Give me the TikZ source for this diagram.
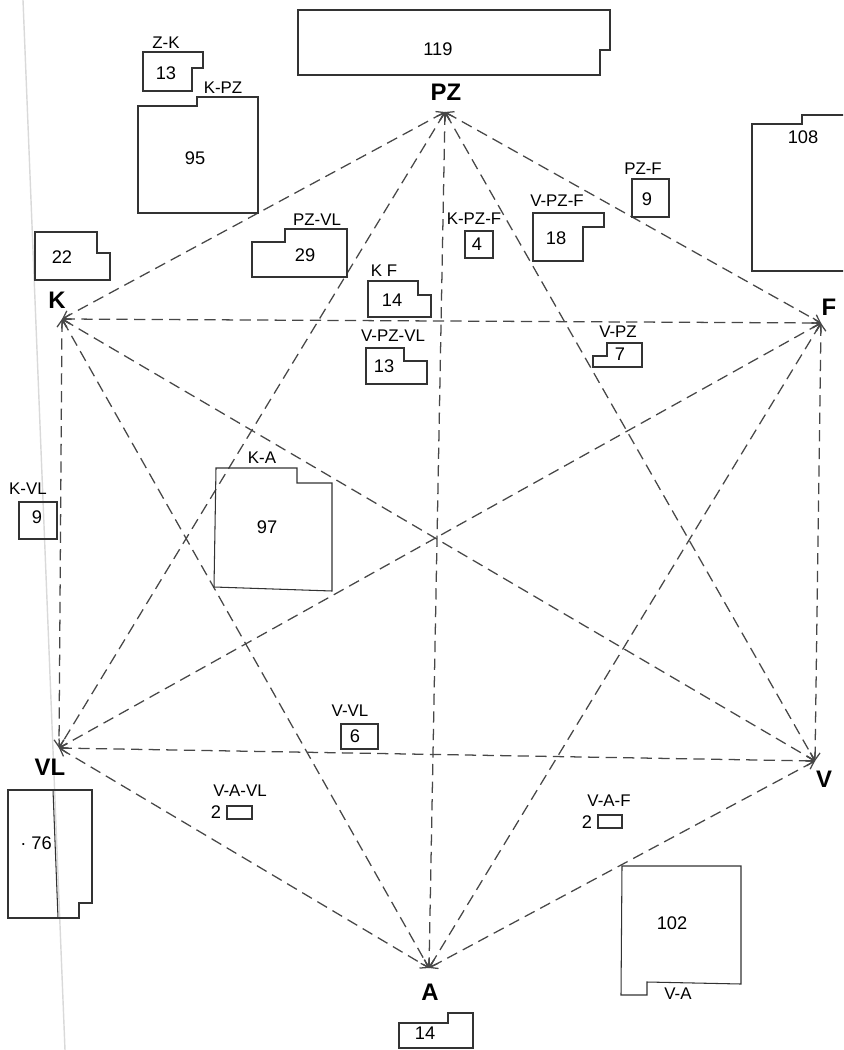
\documentclass[tikz,border=0pt]{standalone}
\usepackage{fontspec}
\setmainfont{Liberation Sans}
\usetikzlibrary{arrows.meta}

\begin{document}
\begin{tikzpicture}[x=0.025cm,y=-0.025cm,
  link/.style={draw=black!72,line width=0.9pt,dash pattern=on 8pt off 4.5pt,
    {Straight Barb[length=5pt,width=7pt]}-{Straight Barb[length=5pt,width=7pt]}},
  plot/.style={draw=black!80,line width=0.75pt},
  vtx/.style={font=\fontsize{17}{17}\selectfont\bfseries,inner sep=0pt},
  tag/.style={font=\fontsize{12}{12}\selectfont,inner sep=0pt},
  num/.style={font=\fontsize{13}{13}\selectfont,inner sep=0pt}]
  \useasboundingbox (0,0) rectangle (843,1050);
  \clip (0,0) rectangle (843,1050);
  % page edge of the scan
  \draw[black!15,line width=1pt] (23,0)--(65,1050);

  % the six places
  \coordinate (PZ) at (445,112);
  \coordinate (K) at (62,319);
  \coordinate (F) at (821,323);
  \coordinate (VL) at (59,748);
  \coordinate (V) at (815,761);
  \coordinate (A) at (429,968);
  \node[vtx] (lPZ) at (446,92) {PZ};
  \node[vtx] (lK) at (57,300) {K};
  \node[vtx] (lF) at (829,307) {F};
  \node[vtx] (lVL) at (50,767) {VL};
  \node[vtx] (lV) at (824,779) {V};
  \node[vtx] (lA) at (430,992) {A};

  % every pair of places
  \foreach \a/\b in {PZ/K,PZ/F,PZ/VL,PZ/V,PZ/A,K/F,K/VL,K/V,K/A,F/VL,F/V,F/A,VL/V,VL/A,V/A}
    \draw[link] (\a)--(\b);

  % plots with their counts
  \draw[plot] (298,10)--(610,10)--(610,50)--(600,50)--(600,75)--(298,75)--cycle;
  \node[num] (n119) at (438,49) {119};
  \draw[plot] (143,52)--(203,52)--(203,68)--(192,68)--(192,91)--(143,91)--cycle;
  \node[tag] (tZK) at (166,43) {Z-K};
  \node[num] (nZK) at (166,73) {13};
  \draw[plot] (138,106)--(197,106)--(197,97)--(258,97)--(258,213)--(138,213)--cycle;
  \node[tag] (tKPZ) at (223,88) {K-PZ};
  \node[num] (nKPZ) at (195,158) {95};
  \draw[plot] (852,115)--(802,115)--(802,124)--(752,124)--(752,271)--(852,271);
  \node[num] (n108) at (803,137) {108};
  \draw[plot] (35,232)--(97,232)--(97,253)--(110,253)--(110,280)--(35,280)--cycle;
  \node[num] (n22) at (62,257) {22};
  \draw[plot] (252,242)--(285,242)--(285,229)--(347,229)--(347,277)--(252,277)--cycle;
  \node[tag] (tPZVL) at (317,220) {PZ-VL};
  \node[num] (nPZVL) at (305,255) {29};
  \draw[plot] (368,281)--(418,281)--(418,295)--(431,295)--(431,317)--(368,317)--cycle;
  \node[tag] (tKF) at (384,271) {K F};
  \node[num] (nKF) at (392,300) {14};
  \draw[plot] (366,348)--(404,348)--(404,361)--(427,361)--(427,384)--(366,384)--cycle;
  \node[tag] (tVPZVL) at (393,336) {V-PZ-VL};
  \node[num] (nVPZVL) at (384,366) {13};
  \draw[plot] (465,231) rectangle (493,258);
  \node[tag] (tKPZF) at (474,219) {K-PZ-F};
  \node[num] (nKPZF) at (477,244) {4};
  \draw[plot] (533,213)--(604,213)--(604,227)--(583,227)--(583,261)--(533,261)--cycle;
  \node[tag] (tVPZF) at (557,201) {V-PZ-F};
  \node[num] (nVPZF) at (556,238) {18};
  \draw[plot] (632,179) rectangle (669,217);
  \node[tag] (tPZF) at (643,169) {PZ-F};
  \node[num] (nPZF) at (647,199) {9};
  \draw[plot] (593,356)--(607,356)--(607,343)--(642,343)--(642,367)--(593,367)--cycle;
  \node[tag] (tVPZ) at (618,332) {V-PZ};
  \node[num] (nVPZ) at (620,354) {7};
  \draw[plot] (19,502) rectangle (57,539);
  \node[tag] (tKVL) at (28,489) {K-VL};
  \node[num] (nKVL) at (37,517) {9};
  \draw[plot] (216,468)--(297,468)--(297,483)--(332,483)--(332,591)--(214,587)--cycle;
  \node[tag] (tKA) at (262,458) {K-A};
  \node[num] (nKA) at (267,527) {97};
  \draw[plot] (341,724) rectangle (378,749);
  \node[tag] (tVVL) at (350,711) {V-VL};
  \node[num] (nVVL) at (355,736) {6};
  \draw[plot] (227,806) rectangle (252,819);
  \node[tag] (tVAVL) at (240,791) {V-A-VL};
  \node[num] (nVAVL) at (216,812) {2};
  \draw[plot] (8,790)--(92,790)--(92,903)--(79,903)--(79,918)--(8,918)--cycle;
  \draw[plot] (53,790)--(58,918);
  \node[num] (nVL) at (36,843) {· 76};
  \draw[plot] (598,815) rectangle (622,828);
  \node[tag] (tVAF) at (609,801) {V-A-F};
  \node[num] (nVAF) at (587,822) {2};
  \draw[plot] (622,866)--(741,866)--(741,984)--(647,982)--(647,995)--(621,995)--cycle;
  \node[tag] (tVA) at (678,994) {V-A};
  \node[num] (nVA) at (672,923) {102};
  \draw[plot] (399,1023)--(448,1023)--(448,1013)--(473,1013)--(473,1048)--(399,1048)--cycle;
  \node[num] (nA) at (425,1033) {14};
\end{tikzpicture}
\end{document}
